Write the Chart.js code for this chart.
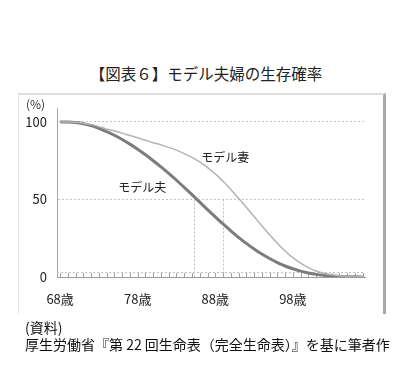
<!DOCTYPE html>
<html lang="ja">
<head>
<meta charset="utf-8">
<script src="https://cdn.jsdelivr.net/npm/chart.js@4/dist/chart.umd.min.js"></script>
<style>
  body { margin: 0; background: #fff; font-family: "Noto Sans CJK JP", "Noto Sans", sans-serif; }
  #wrap { position: relative; width: 412px; height: 369px; overflow: hidden; }
  #frame { position: absolute; left: 18px; top: 93px; width: 364px; height: 219px;
           border-top: 2px solid #dedede; border-left: 1px solid #e6e6e6; border-right: 3px solid #a8a8a8; }
  #title { position: absolute; top: 62px; left: 0; width: 412px; text-align: center; font-size: 15.5px; color: #222; }
  #unit { position: absolute; left: 26px; top: 95px; font-size: 12px; color: #333; }
  .src { position: absolute; left: 25px; font-size: 14px; color: #111; white-space: nowrap; }
  canvas { position: absolute; left: 0; top: 0; }
</style>
</head>
<body>
<div id="wrap">
  <div id="frame"></div>
  <div id="title">【図表６】モデル夫婦の生存確率</div>
  <canvas id="chart" width="412" height="369"></canvas>
  <div id="unit">(%)</div>
  <div class="src" style="top:317px">(資料)</div>
  <div class="src" style="top:334px">厚生労働省『第 22 回生命表（完全生命表）』を基に筆者作</div>
</div>
<script>
// ages of the husband (x axis)
const ages = [68, 69, 70, 71, 72, 73, 74, 75, 76, 77, 78, 79, 80, 81, 82, 83, 84, 85, 86, 87,
              88, 89, 90, 91, 92, 93, 94, 95, 96, 97, 98, 99, 100, 101, 102, 103, 104, 105, 106, 107];
// survival probability (%)
const husband = [100, 100, 99.7, 98.9, 97.6, 95.9, 93.8, 91.4, 88.7, 85.7, 82.4, 78.8, 75, 71, 66.8, 62.4, 57.8, 53.1, 48.3, 43.5,
                 38.8, 34.2, 29.8, 25.6, 21.7, 18.1, 14.8, 11.9, 9.3, 7.1, 5.3, 3.8, 2.6, 1.7, 1.1, 0.65, 0.38, 0.2, 0.1, 0.05];
const wife = [100, 100, 99.8, 99.2, 98.3, 97, 95.5, 94.2, 92.8, 91.3, 89.8, 88.2, 86.6, 85.2, 83.6, 81.8, 79.6, 77.1, 74.2, 70.6,
              66.5, 61.8, 56.5, 50.8, 45, 39, 33, 27.2, 21.8, 16.8, 12.5, 8.9, 6, 3.9, 2.4, 1.4, 0.8, 0.45, 0.25, 0.1];
const xTicks = [68, 78, 88, 98];
const yTicks = [0, 50, 100];
const markerAges = [85.2, 89.0];   // dotted verticals from 0 to 50
const labels = [
  { text: 'モデル夫', age: 78.6, value: 58 },
  { text: 'モデル妻', age: 89.3, value: 77 }
];

const extras = {
  id: 'extras',
  beforeDatasetsDraw(chart) {
    const { ctx, scales: { x, y } } = chart;
    ctx.save();
    ctx.strokeStyle = '#bdbdbd';
    ctx.lineWidth = 1;
    ctx.setLineDash([2, 2]);
    // low dotted line above the axis
    const yl = Math.round(y.getPixelForValue(3)) + 0.5;
    ctx.beginPath(); ctx.moveTo(x.left, yl); ctx.lineTo(x.right, yl); ctx.stroke();
    // vertical markers
    markerAges.forEach(a => {
      const px = Math.round(x.getPixelForValue(a)) + 0.5;
      ctx.beginPath(); ctx.moveTo(px, y.getPixelForValue(50)); ctx.lineTo(px, y.getPixelForValue(0)); ctx.stroke();
    });
    // minor ticks every year
    ctx.setLineDash([]);
    ctx.strokeStyle = '#a0a0a0';
    const y0 = y.getPixelForValue(0);
    ages.forEach(a => {
      const px = Math.round(x.getPixelForValue(a)) + 0.5;
      ctx.beginPath(); ctx.moveTo(px, y0); ctx.lineTo(px, y0 - 4); ctx.stroke();
    });
    ctx.restore();
  },
  afterDatasetsDraw(chart) {
    const { ctx, scales: { x, y } } = chart;
    ctx.save();
    ctx.font = '12px "Noto Sans CJK JP"';
    ctx.fillStyle = '#222';
    ctx.textAlign = 'center';
    ctx.textBaseline = 'middle';
    labels.forEach(l => ctx.fillText(l.text, x.getPixelForValue(l.age), y.getPixelForValue(l.value)));
    ctx.restore();
  }
};

new Chart(document.getElementById('chart'), {
  type: 'line',
  data: {
    datasets: [
      { label: 'モデル妻', data: ages.map((a, i) => ({ x: a, y: wife[i] })),
        borderColor: '#b3b3b3', borderWidth: 1.5, pointRadius: 0, cubicInterpolationMode: 'monotone' },
      { label: 'モデル夫', data: ages.map((a, i) => ({ x: a, y: husband[i] })),
        borderColor: '#7c7c7c', borderWidth: 3, pointRadius: 0, cubicInterpolationMode: 'monotone' }
    ]
  },
  options: {
    responsive: false,
    devicePixelRatio: 1,
    animation: false,
    layout: { padding: { top: 108, right: 47, left: 0, bottom: 0 } },
    plugins: { legend: { display: false }, tooltip: { enabled: false } },
    scales: {
      x: {
        type: 'linear', min: 67.6, max: 107.3,
        afterFit: s => { s.height = 92; },
        afterBuildTicks: s => { s.ticks = xTicks.map(v => ({ value: v })); },
        grid: { display: false, drawTicks: false },
        border: { color: '#9a9a9a', width: 1 },
        ticks: { callback: v => v + '歳', padding: 14, maxRotation: 0, color: '#222',
                 font: { family: '"Noto Sans CJK JP"', size: 13 } }
      },
      y: {
        min: 0, max: 109,
        afterFit: s => { s.width = 57; },
        afterBuildTicks: s => { s.ticks = yTicks.map(v => ({ value: v })); },
        grid: { drawTicks: false, color: ctx => ctx.tick && ctx.tick.value === 0 ? 'rgba(0,0,0,0)' : '#c4c4c4' },
        border: { color: '#a6a6a6', width: 1, dash: [2, 2] },
        ticks: { padding: 10, color: '#222', font: { family: '"Noto Sans CJK JP"', size: 13 } }
      }
    }
  },
  plugins: [extras]
});
</script>
</body>
</html>
